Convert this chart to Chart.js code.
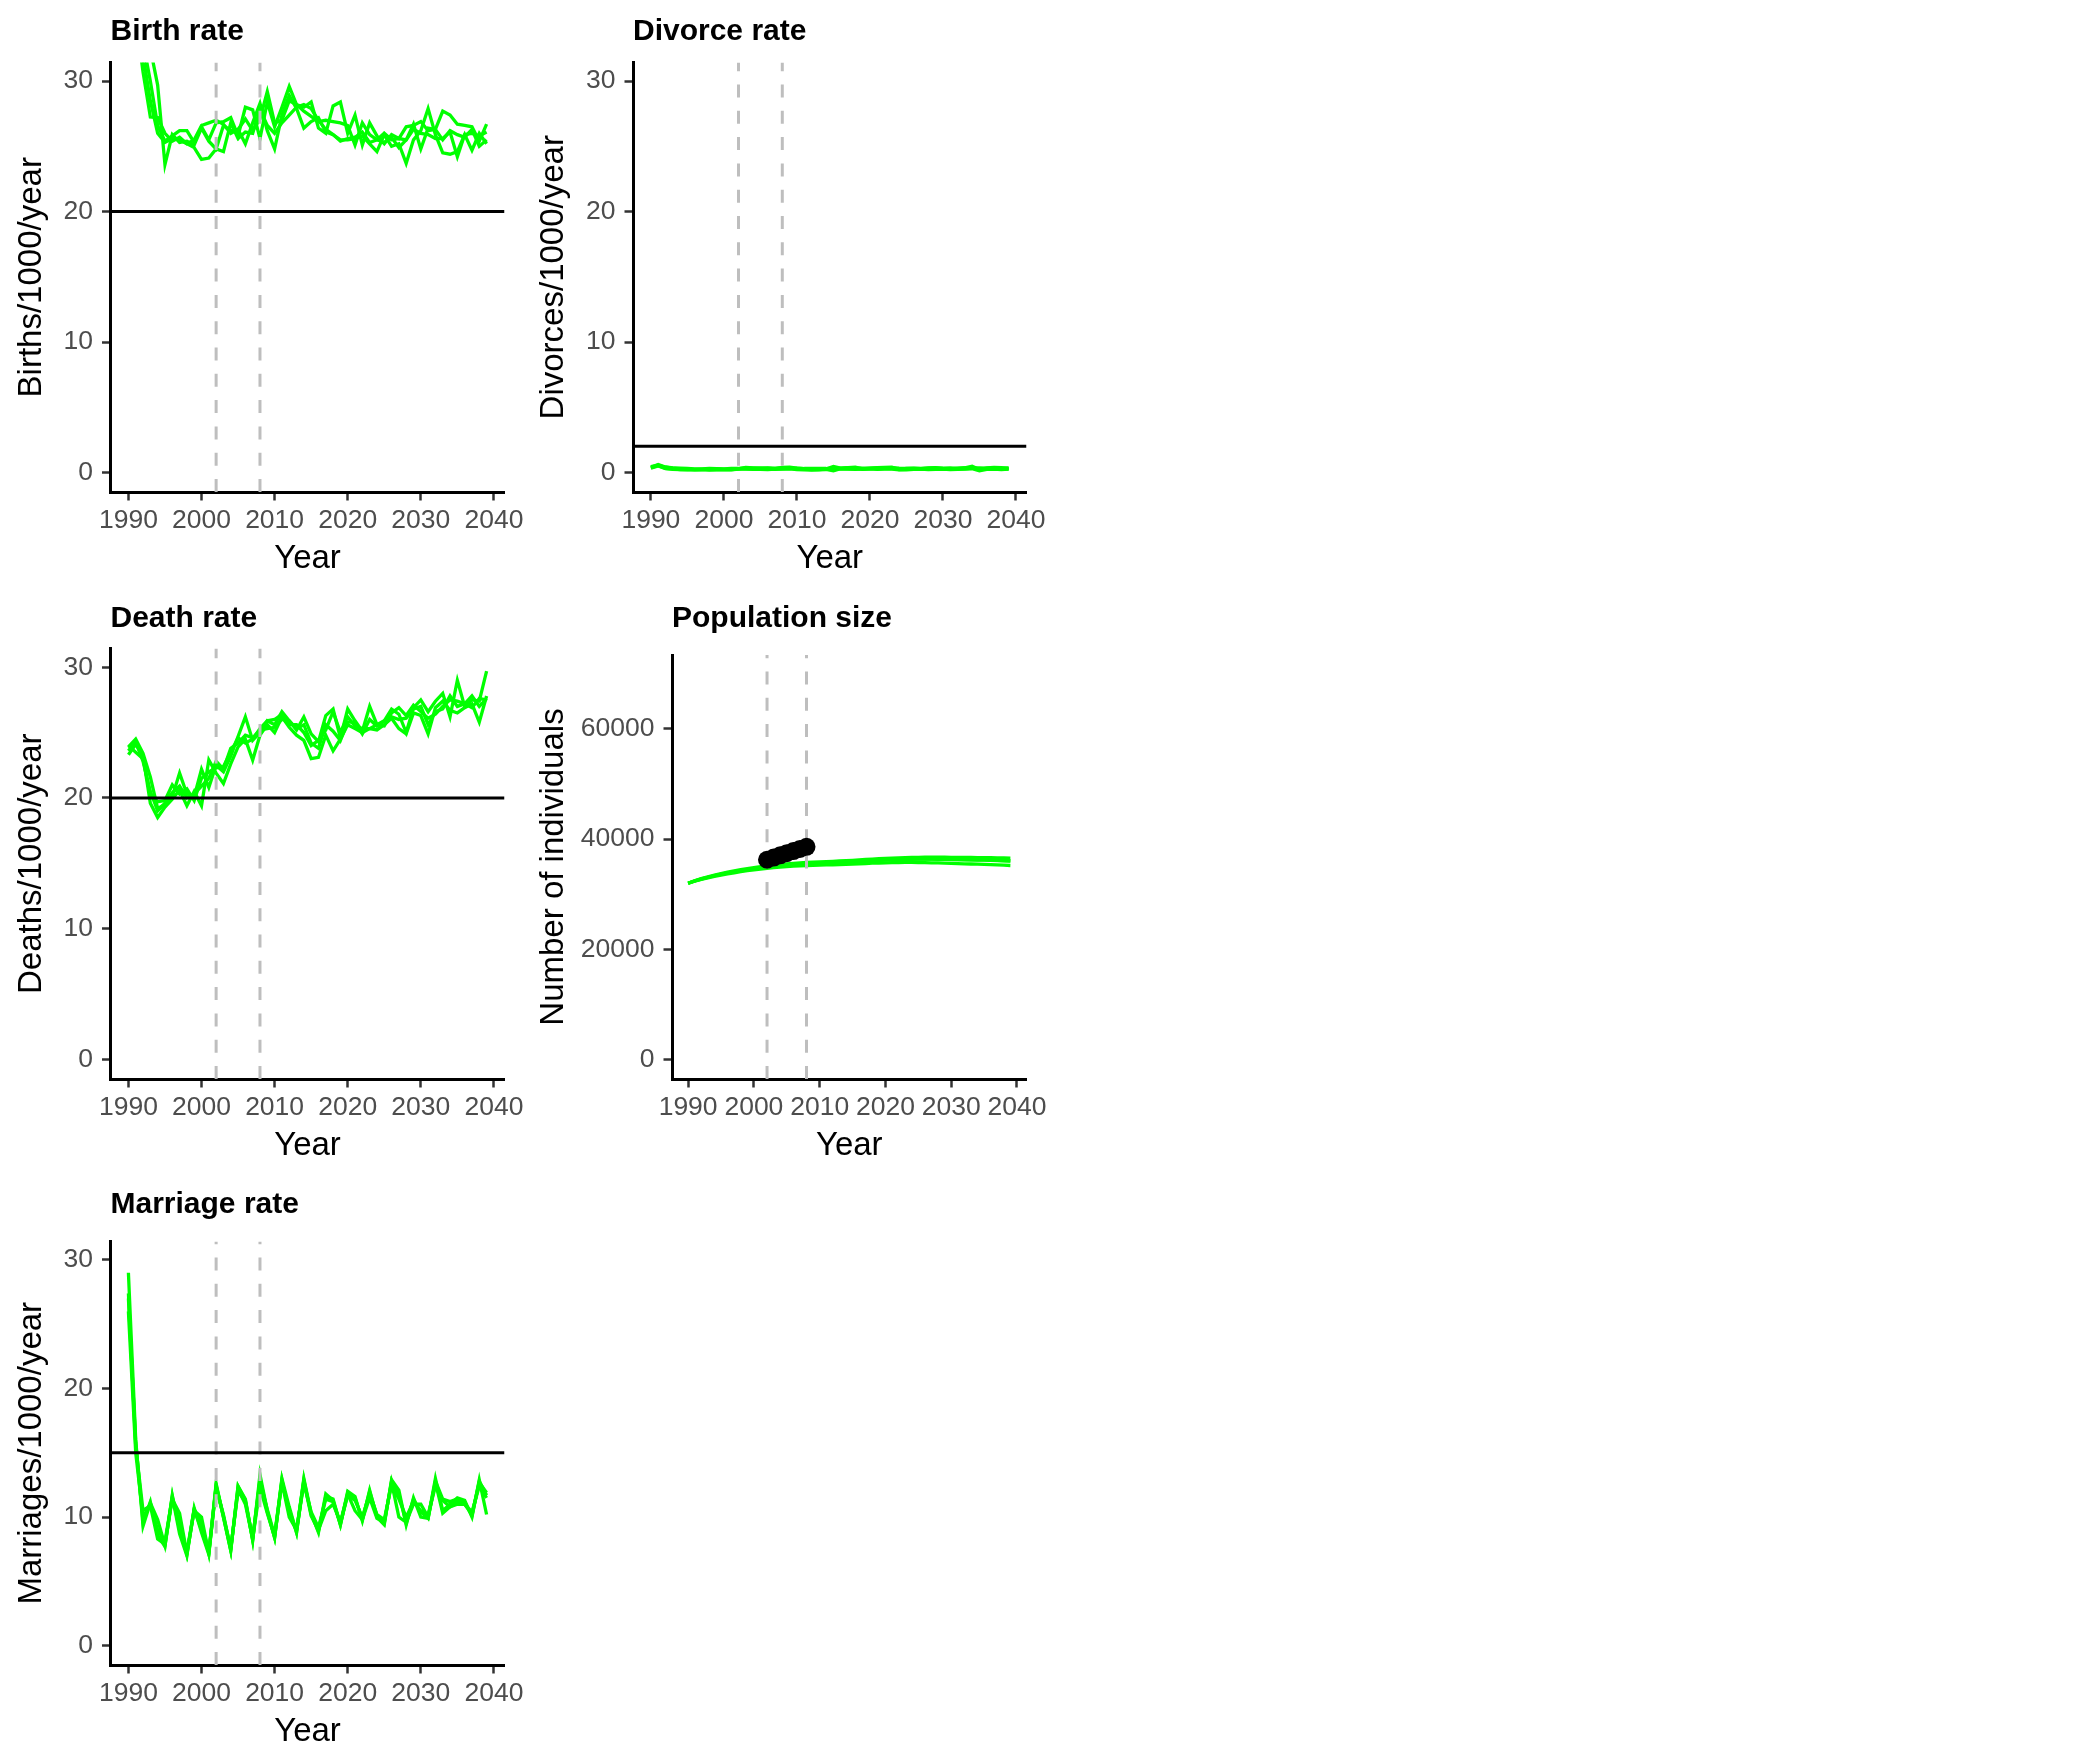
<!DOCTYPE html>
<html><head><meta charset="utf-8">
<script src="https://cdn.jsdelivr.net/npm/chart.js@4/dist/chart.umd.min.js"></script>
<style>
html,body{margin:0;padding:0;background:#fff;}
body{width:2090px;height:1760px;position:relative;overflow:hidden;}
canvas{position:absolute;}
</style></head><body>
<canvas id="cBirth" width="560" height="587" style="left:0px;top:0px"></canvas>
<canvas id="cDivorce" width="560" height="587" style="left:522px;top:0px"></canvas>
<canvas id="cDeath" width="560" height="587" style="left:0px;top:587px"></canvas>
<canvas id="cPop" width="560" height="587" style="left:522px;top:587px"></canvas>
<canvas id="cMarriage" width="560" height="587" style="left:0px;top:1173px"></canvas>
<script>
// ---------- data ----------
const years = [1990,1991,1992,1993,1994,1995,1996,1997,1998,1999,2000,2001,2002,2003,2004,2005,2006,2007,2008,2009,
               2010,2011,2012,2013,2014,2015,2016,2017,2018,2019,2020,2021,2022,2023,2024,2025,2026,2027,2028,2029,
               2030,2031,2032,2033,2034,2035,2036,2037,2038,2039];
const xTicks = [1990, 2000, 2010, 2020, 2030, 2040];
const rateTicks = [0, 10, 20, 30];
const popTicks = [0, 20000, 40000, 60000];
const markerYears = [2002, 2008];

const birthRun1 = [41,37,33,30.0,26.6,25.4,25.8,26.2,26.2,25.3,26.5,25.5,26.8,26.9,27.2,25.8,28.0,27.8,25.6,28.4,
                   26.5,28.0,29.6,28.2,28.0,28.4,26.4,26.0,28.1,28.4,26.0,27.4,25.1,26.8,25.8,25.2,25.9,25.6,26.5,26.6,
                   26.9,26.2,26.3,27.7,27.4,26.7,26.6,26.5,25.4,26.7];
const birthRun2 = [42,38,34,32.5,29.7,23.6,25.9,25.3,25.4,25.1,26.4,25.4,24.8,26.6,26.2,26.3,25.2,26.8,28.3,26.2,
                   24.8,27.4,28.9,27.9,26.4,26.9,27.2,26.1,25.9,25.5,25.5,25.6,25.8,25.2,24.6,25.9,25.0,25.2,23.7,25.5,
                   26.2,27.9,25.9,24.5,24.4,24.6,25.9,24.7,26.0,25.2];
const birthRun3 = [37,35,30.7,27.25,27.2,26.0,25.4,25.7,25.2,24.9,24.0,24.1,24.8,24.6,26.8,25.6,26.1,26.0,27.8,26.6,
                   26.0,26.8,27.4,28.0,28.2,27.9,27.0,26.3,25.9,25.4,25.6,25.7,26.1,25.3,25.5,26.0,25.5,25.6,25.5,26.3,
                   26.0,25.9,25.6,25.6,26.1,24.2,25.9,26.0,25.8,26.1];
const birthRun4 = [39,35.5,32,28.5,26.0,25.3,25.6,25.5,25.2,25.5,26.6,26.8,27.0,26.7,26.0,26.3,27.1,26.2,27.1,29.2,
                   26.8,27.0,28.5,28.2,27.7,27.3,26.9,27.0,26.9,26.8,26.6,25.1,26.8,25.9,25.5,25.3,25.7,24.9,25.5,26.7,
                   24.8,26.4,26.3,25.5,26.2,25.9,25.7,26.3,25.0,25.5];

const divorceRun1 = [0.40,0.60,0.42,0.34,0.30,0.27,0.24,0.26,0.27,0.28,0.26,0.24,0.30,0.38,0.34,0.35,0.33,0.28,0.38,0.40,
                     0.33,0.29,0.27,0.24,0.26,0.45,0.33,0.36,0.40,0.28,0.33,0.36,0.38,0.40,0.24,0.31,0.30,0.29,0.34,0.37,
                     0.31,0.28,0.33,0.36,0.48,0.22,0.34,0.38,0.36,0.31];
const divorceRun2 = [0.32,0.50,0.30,0.24,0.21,0.19,0.20,0.21,0.18,0.19,0.21,0.20,0.25,0.25,0.23,0.24,0.22,0.25,0.25,0.27,
                     0.22,0.20,0.18,0.20,0.23,0.12,0.28,0.25,0.23,0.25,0.28,0.24,0.26,0.25,0.20,0.20,0.24,0.25,0.22,0.24,
                     0.26,0.22,0.23,0.25,0.28,0.12,0.24,0.25,0.22,0.25];
const divorceRun3 = [0.44,0.56,0.40,0.33,0.32,0.30,0.28,0.27,0.30,0.29,0.27,0.31,0.30,0.35,0.33,0.31,0.35,0.32,0.36,0.33,
                     0.33,0.30,0.30,0.31,0.30,0.34,0.32,0.37,0.34,0.32,0.32,0.35,0.34,0.37,0.33,0.31,0.32,0.31,0.33,0.35,
                     0.33,0.34,0.31,0.33,0.35,0.34,0.32,0.35,0.33,0.35];
const divorceRun4 = [0.36,0.52,0.32,0.27,0.22,0.24,0.20,0.22,0.21,0.24,0.22,0.21,0.26,0.29,0.28,0.25,0.26,0.24,0.28,0.31,
                     0.25,0.25,0.21,0.21,0.24,0.30,0.26,0.28,0.29,0.24,0.28,0.27,0.29,0.31,0.22,0.23,0.27,0.25,0.25,0.27,
                     0.24,0.25,0.26,0.28,0.33,0.22,0.28,0.29,0.27,0.26];

const deathRun1 = [23.9,24.5,23.4,21.6,19.2,19.5,20.1,21.9,20.3,20.1,22.2,20.8,22.5,22.0,23.2,24.7,26.2,24.4,25.0,25.9,
                   25.6,26.6,25.9,25.2,26.2,24.9,24.3,26.3,26.8,24.6,26.8,25.9,25.1,27.0,25.6,25.9,26.8,26.4,25.0,26.9,
                   27.5,26.6,27.4,28.0,26.2,29.0,27.0,27.5,27.4,29.7];
const deathRun2 = [23.3,24.1,23.2,19.6,18.5,19.3,19.9,20.6,19.4,20.5,19.4,22.9,21.9,21.1,22.6,23.9,24.5,22.9,24.8,25.6,
                   25.0,26.2,25.4,24.8,24.4,23.0,23.1,24.8,23.6,24.5,25.6,25.3,25.0,25.3,25.2,25.6,26.1,25.3,24.9,26.5,
                   26.3,24.9,26.9,27.4,26.7,26.5,26.9,27.2,25.8,27.8];
const deathRun3 = [24.0,23.5,23.0,20.2,19.7,19.8,21.0,20.3,20.7,19.8,21.5,22.0,22.3,22.4,23.5,24.6,24.2,24.5,25.3,25.9,
                   26.0,26.4,25.6,25.6,25.0,24.0,24.4,25.2,26.6,25.0,26.2,25.5,25.3,25.3,25.6,25.5,26.5,26.9,26.3,27.1,
                   26.6,26.1,26.4,27.0,27.5,27.4,27.2,26.9,27.6,27.5];
const deathRun4 = [23.6,24.3,22.8,20.5,19.0,19.6,20.4,20.9,20.0,20.3,20.9,21.5,22.8,22.2,23.8,24.2,24.8,24.6,25.2,25.3,
                   25.4,26.0,25.9,25.3,25.6,24.2,23.8,25.6,25.1,24.4,25.8,25.8,24.9,26.0,25.5,25.9,26.2,26.0,26.1,26.8,
                   27.0,25.6,26.6,26.8,27.8,27.0,27.2,27.8,27.0,27.6];

const marriageRun1 = [29.0,16.0,9.3,11.1,9.8,7.8,11.6,8.7,7.0,10.7,8.8,7.1,12.5,10.0,7.4,12.4,11.3,8.2,13.3,10.5,
                      8.4,13.0,10.8,8.8,13.0,10.3,8.8,11.8,11.3,9.4,12.0,11.6,9.7,12.1,10.0,9.4,12.9,12.1,9.4,11.5,
                      10.0,9.9,13.0,10.5,11.0,11.5,11.3,10.0,12.9,10.2];
const marriageRun2 = [27.4,15.5,10.5,10.9,8.3,7.9,11.4,10.3,7.2,10.5,10.0,7.2,12.3,10.2,7.5,12.2,11.0,8.3,12.3,10.3,
                      8.5,12.7,10.0,9.0,12.8,10.1,9.0,10.5,11.0,9.6,11.8,10.5,9.8,11.5,9.9,9.6,12.7,10.0,9.6,11.0,
                      11.0,10.0,12.7,10.3,10.8,11.2,11.0,10.2,12.7,11.9];
const marriageRun3 = [26.0,15.0,10.0,11.0,9.0,8.1,11.5,9.5,7.3,10.6,9.5,7.3,12.4,10.1,7.6,12.0,11.2,8.4,12.8,10.6,
                      8.6,12.9,10.3,9.0,12.6,10.4,9.2,11.4,11.2,9.5,11.7,11.3,10.0,11.8,10.2,9.8,12.5,11.4,10.0,11.2,
                      10.5,10.2,12.4,11.3,10.8,11.0,11.0,10.4,12.4,11.5];
const marriageRun4 = [27.0,15.8,9.6,11.2,8.6,7.7,11.7,9.0,7.1,10.6,9.0,7.2,12.6,10.0,7.4,12.4,11.4,8.2,13.0,10.4,
                      8.4,12.8,10.6,8.8,12.9,10.2,8.9,11.6,11.4,9.4,11.9,11.5,9.8,12.0,10.1,9.5,12.8,11.8,9.5,11.4,
                      10.4,9.9,12.8,11.4,11.2,11.4,11.2,10.1,12.8,11.7];

const popRun1 = [32000,32400,32750,33050,33350,33600,33850,34050,34250,34450,34620,34780,34920,35050,35170,35280,35370,35440,35500,35550,
                 35590,35630,35670,35720,35780,35850,35920,35990,36060,36120,36180,36230,36270,36300,36330,36350,36360,36360,36350,36330,
                 36300,36280,36260,36250,36240,36230,36200,36150,36100,36050];
const popRun2 = [32000,32450,32840,33170,33480,33750,34000,34220,34440,34640,34820,34990,35140,35280,35400,35510,35600,35680,35750,35810,
                 35860,35910,35960,36020,36080,36150,36230,36300,36370,36440,36500,36550,36600,36640,36670,36690,36700,36710,36710,36700,
                 36690,36680,36670,36660,36650,36640,36620,36600,36580,36550];
const popRun3 = [32000,32350,32670,32950,33230,33470,33700,33890,34080,34260,34420,34560,34690,34810,34920,35020,35100,35160,35210,35250,
                 35280,35310,35340,35380,35420,35470,35520,35570,35620,35660,35700,35730,35750,35760,35760,35750,35730,35700,35670,35630,
                 35590,35550,35510,35480,35440,35400,35360,35310,35260,35210];
const popRun4 = [32000,32410,32770,33080,33370,33630,33870,34080,34280,34470,34640,34800,34950,35080,35200,35300,35390,35460,35520,35570,
                 35610,35650,35700,35750,35810,35880,35950,36020,36090,36150,36210,36260,36300,36330,36350,36360,36360,36350,36330,36310,
                 36280,36260,36240,36220,36200,36180,36150,36110,36070,36020];

const obsYears = [2002,2003,2004,2005,2006,2007,2008];
const obsPop   = [36250,36650,37050,37430,37820,38200,38600];

// ---------- drawing ----------
const FONT = 'Liberation Sans';

function drawRefLines(chart, opts) {
  const {ctx, chartArea: a, scales: {x, y}} = chart;
  ctx.save();
  ctx.beginPath(); ctx.rect(a.left, a.top, a.right - a.left, a.bottom - a.top); ctx.clip();
  (opts.vlines || []).forEach(v => {
    const px = x.getPixelForValue(v);
    ctx.beginPath();
    ctx.setLineDash([13, 13.3]); ctx.lineDashOffset = 0;
    ctx.strokeStyle = '#BEBEBE'; ctx.lineWidth = 3;
    ctx.moveTo(px, a.bottom); ctx.lineTo(px, a.top); ctx.stroke();
  });
  if (opts.hline !== null && opts.hline !== undefined) {
    const py = y.getPixelForValue(opts.hline);
    ctx.beginPath(); ctx.setLineDash([]);
    ctx.strokeStyle = '#000'; ctx.lineWidth = 3;
    ctx.moveTo(a.left, py); ctx.lineTo(a.right, py); ctx.stroke();
  }
  ctx.restore();
}

const decor = {
  id: 'panelDecor',
  beforeDatasetsDraw(chart) { chart.$refDone = false; },
  beforeDatasetDraw(chart, args, opts) {
    const ds = chart.data.datasets[args.index];
    if (ds.isObs && !chart.$refDone) { drawRefLines(chart, opts); chart.$refDone = true; }
  },
  afterDatasetsDraw(chart, args, opts) {
    if (!chart.$refDone) { drawRefLines(chart, opts); chart.$refDone = true; }
  },
  afterDraw(chart, args, opts) {
    const {ctx, chartArea: a} = chart;
    ctx.save();
    ctx.font = 'bold 30px "' + FONT + '"';
    ctx.fillStyle = '#000';
    ctx.textBaseline = 'alphabetic';
    ctx.textAlign = 'left';
    ctx.fillText(opts.title, a.left, 39.7);
    ctx.restore();
  }
};

function makePanel(id, p) {
  const datasets = p.runs.map(r => ({
    type: 'line',
    data: years.map((yr, j) => ({x: yr, y: r[j]})),
    borderColor: '#00FF00', borderWidth: 3.3, pointRadius: 0, fill: false, tension: 0, clip: 0, order: 2
  }));
  if (p.obs) {
    datasets.unshift({
      type: 'scatter', isObs: true,
      data: obsYears.map((yr, j) => ({x: yr, y: obsPop[j]})),
      backgroundColor: '#000', borderColor: '#000', borderWidth: 0, pointRadius: 9, clip: 0, order: 1
    });
  }
  const tickFont = {family: FONT, size: 26.5};
  const titleFont = {family: FONT, size: 33, lineHeight: 1.2};
  const gridOpts = {drawOnChartArea: false, drawTicks: true, tickLength: 8.5, tickWidth: 2.5, tickColor: '#333333'};
  new Chart(document.getElementById(id), {
    type: 'line',
    data: {datasets},
    options: {
      responsive: false, animation: false, devicePixelRatio: 1, events: [],
      layout: {padding: {left: 0, top: p.top, right: 560 - 504.5, bottom: 6}},
      plugins: {
        legend: {display: false}, tooltip: {enabled: false},
        panelDecor: {title: p.title, hline: p.hline, vlines: markerYears}
      },
      scales: {
        x: {
          type: 'linear', min: 1987.55, max: 2041.45,
          afterBuildTicks: s => { s.ticks = xTicks.map(v => ({value: v})); },
          afterFit: s => { s.height = 89; },
          ticks: {autoSkip: false, maxRotation: 0, minRotation: 0, padding: 4, color: '#4D4D4D', font: tickFont,
                  callback: v => String(v)},
          grid: gridOpts,
          border: {display: true, color: '#000', width: 3},
          title: {display: true, text: 'Year', color: '#000', font: titleFont, padding: {top: 0, bottom: 2.6}}
        },
        y: {
          type: 'linear', min: p.ymin, max: p.ymax,
          afterBuildTicks: s => { s.ticks = p.yTicks.map(v => ({value: v})); },
          afterFit: s => { s.width = p.left; },
          ticks: {autoSkip: false, padding: 9.1, color: '#4D4D4D', font: tickFont, callback: v => String(v)},
          grid: gridOpts,
          border: {display: true, color: '#000', width: 3},
          title: {display: true, text: p.ytitle, color: '#000', font: titleFont, padding: {top: 12, bottom: 0}}
        }
      }
    },
    plugins: [decor]
  });
}

makePanel('cBirth', {title: 'Birth rate', ytitle: 'Births/1000/year', runs: [birthRun1, birthRun2, birthRun3, birthRun4],
  hline: 20, ymin: -1.5, ymax: 31.43, yTicks: rateTicks, left: 110.5, top: 62.5});
makePanel('cDivorce', {title: 'Divorce rate', ytitle: 'Divorces/1000/year', runs: [divorceRun1, divorceRun2, divorceRun3, divorceRun4],
  hline: 2, ymin: -1.5, ymax: 31.43, yTicks: rateTicks, left: 111, top: 62.5});
makePanel('cDeath', {title: 'Death rate', ytitle: 'Deaths/1000/year', runs: [deathRun1, deathRun2, deathRun3, deathRun4],
  hline: 20, ymin: -1.5, ymax: 31.43, yTicks: rateTicks, left: 110.5, top: 61.5});
makePanel('cPop', {title: 'Population size', ytitle: 'Number of individuals', runs: [popRun1, popRun2, popRun3, popRun4],
  hline: null, obs: true, ymin: -3490, ymax: 73360, yTicks: popTicks, left: 150, top: 68});
makePanel('cMarriage', {title: 'Marriage rate', ytitle: 'Marriages/1000/year', runs: [marriageRun1, marriageRun2, marriageRun3, marriageRun4],
  hline: 15, ymin: -1.5, ymax: 31.43, yTicks: rateTicks, left: 110.5, top: 68.5});
</script>
</body></html>
